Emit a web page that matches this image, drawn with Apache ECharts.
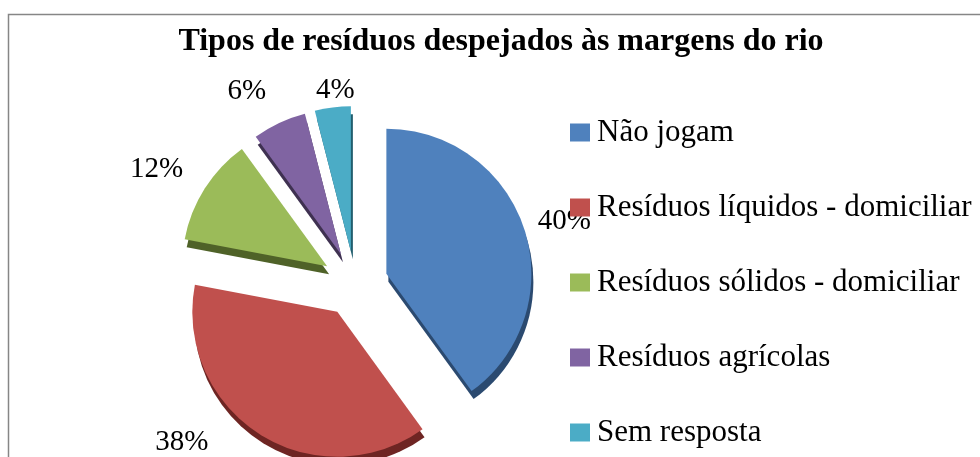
<!DOCTYPE html>
<html>
<head>
<meta charset="utf-8">
<script src="https://cdn.jsdelivr.net/npm/echarts@6/dist/echarts.min.js"></script>
<style>
  html, body { margin: 0; padding: 0; background: #fff; }
  #chart { width: 980px; height: 457px; }
</style>
</head>
<body>
<div id="chart"></div>
<script>
// data
const categories = ['Não jogam', 'Resíduos líquidos - domiciliar', 'Resíduos sólidos - domiciliar', 'Resíduos agrícolas', 'Sem resposta']
const values = [40, 38, 12, 6, 4]
const colors = ['#4F81BD', '#C0504D', '#9BBB59', '#8064A2', '#4BACC6']
const sideColors = ['#2B4A70', '#6E2523', '#4F6228', '#3F3151', '#215E6E']

const serif = "'Liberation Serif', 'Times New Roman', serif"
const center = [355, 284]
const radius = 145
const explode = 33
// how far each percent label sits outside its slice (Excel puts them unevenly)
const labelDist = [40, 9, 51, 36, 18]

let dom = echarts.init(document.getElementById('chart'))

let mainData = categories.map((c, i) => ({
  name: c,
  value: values[i],
  selected: true,
  itemStyle: { color: colors[i] },
  select: { itemStyle: { color: colors[i] } },
  labelLine: { length: labelDist[i], length2: 0 }
}))
let sideData = categories.map((c, i) => ({
  name: c,
  value: values[i],
  selected: true,
  itemStyle: { color: sideColors[i] },
  select: { itemStyle: { color: sideColors[i] } }
}))

// small nudges so the labels land where Excel put them
function nudge (i) {
  if (i === 0) return { dx: -3, dy: 5 }
  if (i === 1) return { dx: -68, dy: 1 }
  if (i === 2) return { dx: 0, dy: 8 }
  if (i === 3) return { dx: -12, dy: 1 }
  return { dx: 10, dy: 1 }
}

let option = {
  animation: false,
  title: {
    text: 'Tipos de resíduos despejados às margens do rio',
    left: 501,
    top: 26,
    padding: 0,
    textAlign: 'center',
    textStyle: { fontFamily: serif, fontWeight: 'bold', fontSize: 32, color: '#000' }
  },
  legend: {
    orient: 'vertical',
    left: 570,
    top: 117,
    padding: 0,
    itemWidth: 20,
    itemHeight: 18,
    itemGap: 44,
    icon: 'rect',
    selectedMode: false,
    data: categories,
    textStyle: { fontFamily: serif, fontSize: 31, color: '#000', lineHeight: 31, padding: [0, 0, 0, 2] }
  },
  graphic: [{
    type: 'rect',
    silent: true,
    shape: { x: 8.5, y: 14.5, width: 1000, height: 500 },
    style: { fill: 'none', stroke: '#868686', lineWidth: 1.5 }
  }],
  series: [
    {
      type: 'pie',
      name: 'main',
      z: 3,
      center: center,
      radius: radius,
      startAngle: 90,
      clockwise: true,
      selectedMode: 'multiple',
      selectedOffset: explode,
      avoidLabelOverlap: false,
      emphasis: { disabled: true },
      label: {
        show: true,
        position: 'outside',
        formatter: '{c}%',
        fontFamily: serif,
        fontSize: 29,
        color: '#000'
      },
      labelLine: { show: false },
      labelLayout: function (p) {
        let n = nudge(p.dataIndex)
        return { align: 'center', verticalAlign: 'middle', dx: n.dx, dy: n.dy }
      },
      data: mainData
    },
    {
      type: 'pie',
      name: 'side',
      z: 2,
      silent: true,
      center: [center[0] + 2, center[1] + 8],
      radius: radius,
      startAngle: 90,
      clockwise: true,
      selectedMode: 'multiple',
      selectedOffset: explode,
      emphasis: { disabled: true },
      label: { show: false },
      labelLine: { show: false },
      data: sideData
    }
  ]
}

dom.setOption(option)
</script>
</body>
</html>
